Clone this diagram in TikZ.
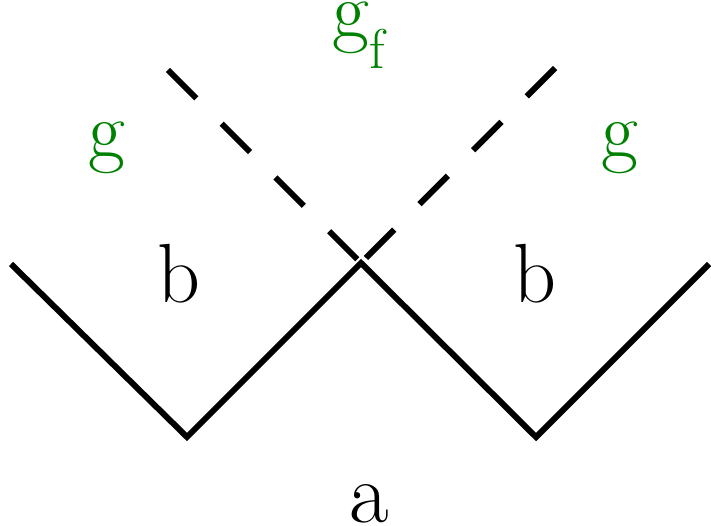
\documentclass[tikz,border=0pt]{standalone}
\usepackage{tikz}
\usetikzlibrary{positioning,calc}
\definecolor{GluonGreen}{RGB}{0,128,0}

\begin{document}
\begin{tikzpicture}[x=1pt, y=-1pt,
  quark/.style={draw=black, line width=6pt, line join=miter},
  halo/.style={draw=white, line width=10pt, line join=miter},
  gluon/.style={draw=black, line width=6pt, dash pattern=on 40pt off 36pt},
  lbl/.style={inner sep=0pt, font=\fontsize{84}{90}\selectfont},
  glbl/.style={lbl, text=GluonGreen, font=\fontsize{80}{86}\selectfont}]
  \useasboundingbox (0,0) rectangle (711,526);
  \coordinate (q1) at (11,264);
  \coordinate (q2) at (187,437);
  \coordinate (v) at (361,263);
  \coordinate (q3) at (536,437);
  \coordinate (q4) at (709,264);
  \coordinate (gl) at (168,70);
  \coordinate (gr) at (555,68);
  \draw[gluon] (gl) -- (v);
  \draw[gluon] (gr) -- (v);
  \draw[halo] ($(q1)!0.5!(q2)$) -- (q2) -- (v) -- (q3) -- ($(q3)!0.5!(q4)$);
  \draw[quark] (q1) -- (q2) -- (v) -- (q3) -- (q4);
  \node[glbl] (gf) at (359,35) {g\textsubscript{f}};
  \node[glbl] (g1) at (107,148) {g};
  \node[glbl] (g2) at (620,148) {g};
  \node[lbl] (b1) at (179,274) {b};
  \node[lbl] (b2) at (535,274) {b};
  \node[lbl, font=\fontsize{86}{90}\selectfont] (a) at (369,504) {a};
\end{tikzpicture}
\end{document}
